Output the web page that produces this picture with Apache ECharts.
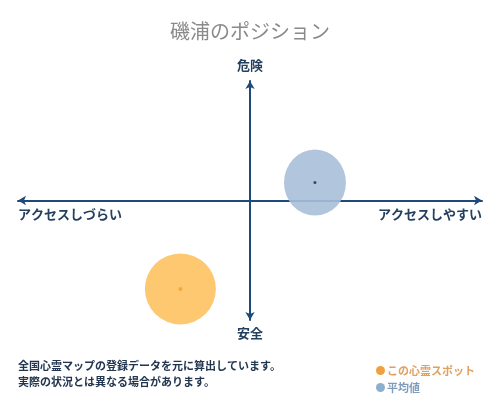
<!DOCTYPE html>
<html><head><meta charset="utf-8">
<script src="https://cdn.jsdelivr.net/npm/echarts@6/dist/echarts.min.js"></script>
<style>html,body{margin:0;padding:0;background:#fff}#c{width:500px;height:400px}</style>
</head><body><div id="c"></div>
<script>
const seriesNames = ['この心霊スポット', '平均値'];
const spotPoint = [[-30, -74]];
const avgPoint = [[28, 15]];
const axisLabels = { top: '危険', bottom: '安全', left: 'アクセスしづらい', right: 'アクセスしやすい' };
const titleText = '磯浦のポジション';
const noteLines = ['全国心霊マップの登録データを元に算出しています。', '実際の状況とは異なる場合があります。'];

const FONT = '"Noto Sans CJK JP", sans-serif';
const axisColor = '#1d4a7a';
const labelColor = '#23405f';
const chart = echarts.init(document.getElementById('c'));
const axisCommon = {
  type: 'value', min: -100, max: 100,
  axisLine: { show: true, onZero: true, symbol: ['arrow', 'arrow'], symbolSize: [7, 8], lineStyle: { color: axisColor, width: 2 } },
  axisTick: { show: false }, axisLabel: { show: false }, splitLine: { show: false }
};
chart.setOption({
  animation: false,
  title: { text: titleText, left: 'center', top: 16, textStyle: { fontFamily: FONT, fontSize: 20, fontWeight: 'normal', color: '#8a8a8a' } },
  grid: { left: 18, right: 18, top: 81, bottom: 80 },
  xAxis: axisCommon,
  yAxis: axisCommon,
  legend: {
    orient: 'vertical', right: 20, top: 360, itemWidth: 9, itemHeight: 9, itemGap: 6, icon: 'circle',
    data: [
      { name: seriesNames[0], itemStyle: { color: '#f0a040' }, textStyle: { color: '#e0a060' } },
      { name: seriesNames[1], itemStyle: { color: '#7fa6c8' }, textStyle: { color: '#7f9cbc' } }
    ],
    textStyle: { fontFamily: FONT, fontSize: 11, fontWeight: 'bold', padding: [0, 0, 0, -3] }
  },
  series: [
    { name: seriesNames[0], type: 'scatter', data: spotPoint, symbolSize: 71, itemStyle: { color: '#fdc870', opacity: 1 }, z: 2 },
    { name: seriesNames[1], type: 'scatter', data: avgPoint, symbolSize: [62, 66], itemStyle: { color: '#a9bfd9', opacity: 0.9 }, z: 2 },
    { name: 'spotCenter', type: 'scatter', data: spotPoint, symbolSize: 4, itemStyle: { color: '#f0a030' }, z: 3 },
    { name: 'avgCenter', type: 'scatter', data: avgPoint, symbolSize: 3, itemStyle: { color: '#1a2a40' }, z: 3 }
  ],
  graphic: [
    { type: 'text', left: 'center', top: 59, style: { text: axisLabels.top, font: 'bold 13px ' + FONT, fill: labelColor } },
    { type: 'text', left: 'center', top: 327, style: { text: axisLabels.bottom, font: 'bold 13px ' + FONT, fill: labelColor } },
    { type: 'text', left: 18, top: 208, style: { text: axisLabels.left, font: 'bold 13px ' + FONT, fill: labelColor } },
    { type: 'text', right: 18, top: 208, style: { text: axisLabels.right, font: 'bold 13px ' + FONT, fill: labelColor } },
    { type: 'text', left: 18, top: 360, style: { text: noteLines[0], font: 'bold 11px ' + FONT, fill: '#22364f' } },
    { type: 'text', left: 18, top: 376, style: { text: noteLines[1], font: 'bold 11px ' + FONT, fill: '#22364f' } }
  ]
});
</script></body></html>
